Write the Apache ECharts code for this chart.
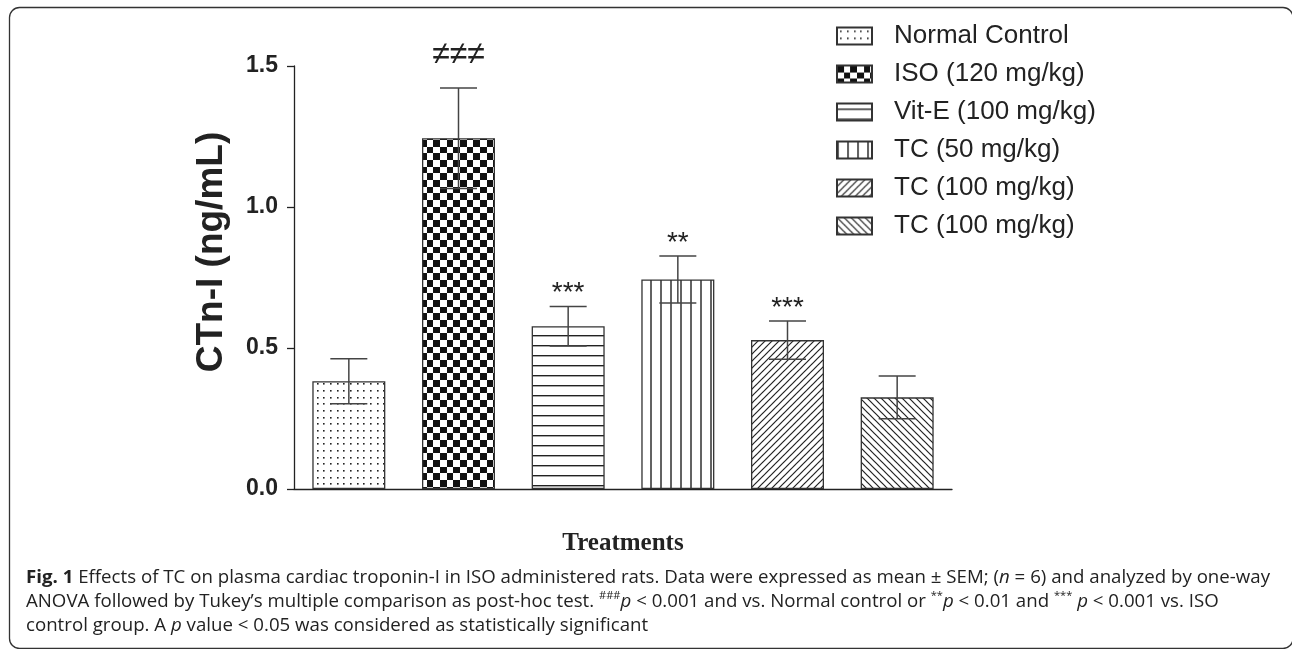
<!DOCTYPE html>
<html>
<head>
<meta charset="utf-8">
<script src="https://cdn.jsdelivr.net/npm/echarts@6/dist/echarts.min.js"></script>
<style>
html,body{margin:0;padding:0;background:#fff;}
#chart{width:1292px;height:649px;}
</style>
</head>
<body>
<div id="chart"></div>
<script>
// ---- data ----
const categories = ['Normal Control', 'ISO (120 mg/kg)', 'Vit-E (100 mg/kg)', 'TC (50 mg/kg)', 'TC (100 mg/kg)', 'TC (100 mg/kg) '];
const means = [0.382, 1.244, 0.577, 0.743, 0.528, 0.325];
const sems = [0.080, 0.178, 0.070, 0.083, 0.068, 0.076];
const marks = ['', '≠≠≠', '***', '**', '***', ''];
const yTickLabels = ['0.0', '0.5', '1.0', '1.5'];
const patternKinds = ['dots', 'checker', 'hlines', 'vlines', 'fdiag', 'bdiag'];

// ---- patterns ----
function makePattern(kind) {
  const c = document.createElement('canvas');
  let w = 10, h = 10;
  if (kind === 'dots') { w = h = 20; }
  if (kind === 'checker') { w = h = 40; }
  if (kind === 'fdiag' || kind === 'bdiag') { w = h = 7; }
  c.width = w; c.height = h;
  const g = c.getContext('2d');
  g.fillStyle = '#fff'; g.fillRect(0, 0, w, h);
  g.fillStyle = '#222'; g.strokeStyle = '#222';
  if (kind === 'dots') {
    [3, 10, 17].forEach(x => [3, 10, 17].forEach(y => g.fillRect(x, y, 1.6, 1.6)));
  } else if (kind === 'checker') {
    const b = [0, 7, 13, 20, 27, 33, 40];
    g.fillStyle = '#111';
    for (let i = 0; i < 6; i++) for (let j = 0; j < 6; j++) {
      if ((i + j) % 2 === 0) g.fillRect(b[i], b[j], b[i + 1] - b[i], b[j + 1] - b[j]);
    }
  } else if (kind === 'hlines') {
    g.fillRect(0, 5, w, 1.4);
  } else if (kind === 'vlines') {
    g.fillRect(0.3, 0, 1.4, h);
  } else if (kind === 'fdiag' || kind === 'bdiag') {
    g.lineWidth = 1.2;
    [-7, 0, 7].forEach(o => {
      g.beginPath();
      if (kind === 'fdiag') { g.moveTo(o - 1, 8); g.lineTo(o + 8, -1); }
      else { g.moveTo(o - 1, -1); g.lineTo(o + 8, 8); }
      g.stroke();
    });
  }
  return { image: c, repeat: 'repeat' };
}

// ---- caption measurement ----
const capFont = '"Open Sans"';
const capSize = 18.5;
function measureCaption() {
  const cv = document.createElement('canvas').getContext('2d');
  let total = 0;
  cv.font = 'bold ' + capSize + 'px ' + capFont; total += cv.measureText('Fig. 1').width;
  cv.font = capSize + 'px ' + capFont;
  total += cv.measureText(' Effects of TC on plasma cardiac troponin-I in ISO administered rats. Data were expressed as mean ± SEM; (').width;
  cv.font = 'italic ' + capSize + 'px ' + capFont; total += cv.measureText('n').width;
  cv.font = capSize + 'px ' + capFont; total += cv.measureText(' = 6) and analyzed by one-way').width;
  return total;
}
const capScale = 1244 / measureCaption();

const capText =
  '{b|Fig. 1} Effects of TC on plasma cardiac troponin-I in ISO administered rats. Data were expressed as mean ± SEM; ({i|n} = 6) and analyzed by one-way\n' +
  'ANOVA followed by Tukey’s multiple comparison as post-hoc test. {s|###}{i|p} < 0.001 and vs. Normal control or {s|**}{i|p} < 0.01 and {s|***} {i|p} < 0.001 vs. ISO\n' +
  'control group. A {i|p} value < 0.05 was considered as statistically significant';

// ---- series ----
const barSeries = categories.map((name, i) => ({
  name: name,
  type: 'bar',
  stack: 'all',
  barWidth: 73,
  z: 2,
  itemStyle: { color: makePattern(patternKinds[i]), borderColor: '#333', borderWidth: 1.3 },
  emphasis: { disabled: true },
  data: categories.map((c, j) => (j === i ? means[i] : null))
}));

const errorSeries = {
  type: 'custom',
  z: 5,
  silent: true,
  data: means.map((m, i) => [i, m - sems[i], m + sems[i]]),
  renderItem: function (params, api) {
    const lo = api.coord([api.value(0), api.value(1)]);
    const hi = api.coord([api.value(0), api.value(2)]);
    const hw = 18.5;
    const st = { stroke: '#444', lineWidth: 1.5 };
    return {
      type: 'group',
      children: [
        { type: 'line', shape: { x1: hi[0], y1: hi[1], x2: lo[0], y2: lo[1] }, style: st },
        { type: 'line', shape: { x1: hi[0] - hw, y1: hi[1], x2: hi[0] + hw, y2: hi[1] }, style: st },
        { type: 'line', shape: { x1: lo[0] - hw, y1: lo[1], x2: lo[0] + hw, y2: lo[1] }, style: st }
      ]
    };
  }
};

const markSeries = {
  type: 'custom',
  z: 6,
  silent: true,
  data: means.map((m, i) => [i, m + sems[i]]),
  renderItem: function (params, api) {
    const i = api.value(0);
    const s = marks[i];
    if (!s) return null;
    const p = api.coord([i, api.value(1)]);
    const isNe = s.indexOf('≠') >= 0;
    return {
      type: 'text',
      style: {
        text: s,
        x: p[0],
        y: p[1] - (isNe ? 33 : 13),
        align: 'center',
        verticalAlign: 'middle',
        font: (isNe ? '32px' : '28px') + ' "Liberation Sans"',
        fill: '#222'
      }
    };
  }
};

const chart = echarts.init(document.getElementById('chart'), null, { renderer: 'canvas' });
chart.setOption({
  animation: false,
  backgroundColor: '#fff',
  grid: { left: 294, right: 340, top: 66, bottom: 160 },
  xAxis: {
    type: 'category',
    data: categories,
    axisLabel: { show: false },
    axisLine: { lineStyle: { color: '#222', width: 1.3 } },
    axisTick: { alignWithLabel: true, length: 8, lineStyle: { color: '#222', width: 1.3 } },
    name: 'Treatments',
    nameLocation: 'middle',
    nameGap: 42,
    nameTextStyle: { fontFamily: 'Liberation Serif', fontWeight: 'bold', fontSize: 25, color: '#222' }
  },
  yAxis: {
    type: 'value',
    min: 0, max: 1.5, interval: 0.5,
    axisLine: { show: true, lineStyle: { color: '#222', width: 1.3 } },
    axisTick: { show: true, length: 7, lineStyle: { color: '#222', width: 1.3 } },
    splitLine: { show: false },
    axisLabel: {
      fontFamily: 'Liberation Sans', fontWeight: 'bold', fontSize: 23, color: '#222', margin: 16,
      formatter: v => yTickLabels[Math.round(v / 0.5)]
    }
  },
  legend: {
    orient: 'vertical',
    left: 836,
    top: 21,
    padding: 0,
    icon: 'rect',
    itemWidth: 35,
    itemHeight: 17,
    itemGap: 8,
    selectedMode: false,
    data: categories,
    textStyle: { fontFamily: 'Liberation Sans', fontSize: 26, color: '#222', lineHeight: 30, padding: [0, 0, 0, 17] }
  },
  series: barSeries.concat([errorSeries, markSeries]),
  graphic: [
    {
      type: 'rect', silent: true,
      shape: { x: 9.5, y: 7.5, width: 1283.5, height: 641, r: 10 },
      style: { fill: 'none', stroke: '#333', lineWidth: 1.3 }
    },
    {
      type: 'text', silent: true,
      x: 212, y: 252, rotation: Math.PI / 2,
      style: { text: 'CTn-I (ng/mL)', font: 'bold 37px "Liberation Sans"', align: 'center', verticalAlign: 'middle', fill: '#222' }
    },
    {
      type: 'text', silent: true,
      x: 26, y: 566, scaleX: capScale,
      style: {
        text: capText,
        fontFamily: capFont, fontSize: capSize, lineHeight: 24, fill: '#222',
        align: 'left', verticalAlign: 'top',
        rich: {
          b: { fontFamily: capFont, fontSize: capSize, fontWeight: 'bold', fill: '#222', lineHeight: 24 },
          i: { fontFamily: capFont, fontSize: capSize, fontStyle: 'italic', fill: '#222', lineHeight: 24 },
          s: { fontFamily: capFont, fontSize: 11, fill: '#222', verticalAlign: 'top', lineHeight: 24 }
        }
      }
    }
  ]
});
</script>
</body>
</html>
